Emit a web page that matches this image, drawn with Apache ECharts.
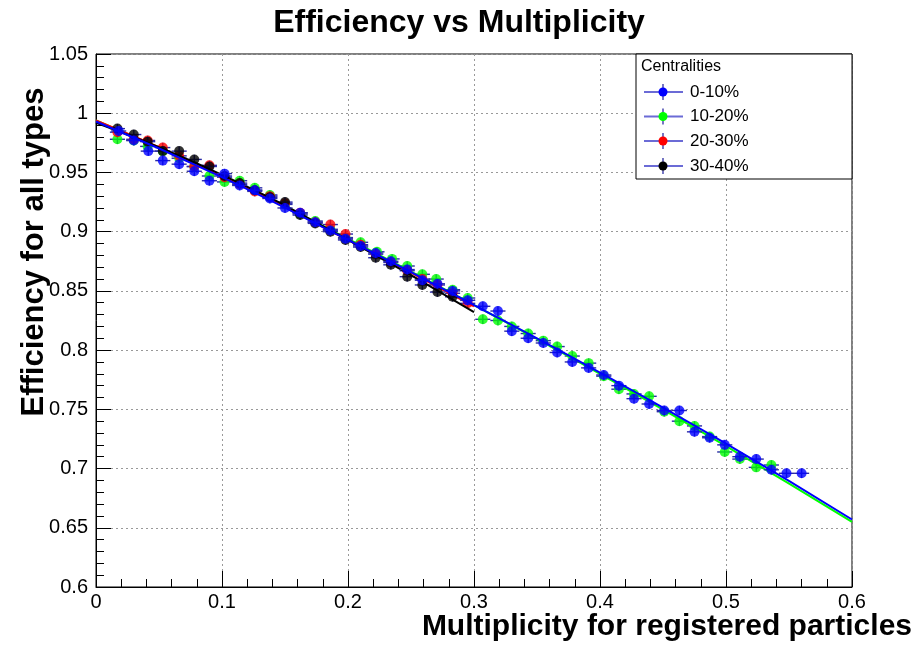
<!DOCTYPE html>
<html>
<head>
<meta charset="utf-8">
<script src="https://cdn.jsdelivr.net/npm/echarts@6/dist/echarts.min.js"></script>
<style>
  html, body { margin: 0; padding: 0; background: #fff; }
  #chart { width: 918px; height: 645px; }
</style>
</head>
<body>
<div id="chart"></div>
<script>
  // data: [multiplicity, efficiency]
  const cent0_10 = [
    [0.018, 0.985], [0.030, 0.977], [0.0415, 0.968], [0.053, 0.960], [0.066, 0.957],
    [0.078, 0.951], [0.090, 0.943], [0.102, 0.949], [0.114, 0.939], [0.126, 0.935],
    [0.138, 0.928], [0.150, 0.920], [0.162, 0.916], [0.174, 0.908], [0.186, 0.901],
    [0.198, 0.894], [0.210, 0.888], [0.222, 0.882], [0.234, 0.875], [0.247, 0.868],
    [0.259, 0.859], [0.271, 0.856], [0.283, 0.850], [0.295, 0.842], [0.307, 0.837],
    [0.319, 0.833], [0.330, 0.816], [0.343, 0.810], [0.355, 0.806], [0.366, 0.798],
    [0.378, 0.790], [0.391, 0.785], [0.403, 0.779], [0.415, 0.770], [0.427, 0.759],
    [0.439, 0.7545], [0.451, 0.749], [0.463, 0.749], [0.475, 0.731], [0.487, 0.726],
    [0.499, 0.720], [0.511, 0.710], [0.524, 0.708], [0.536, 0.699], [0.548, 0.696],
    [0.560, 0.696]
  ]
  const cent10_20 = [
    [0.017, 0.978], [0.030, 0.977], [0.041, 0.972], [0.053, 0.968], [0.066, 0.962],
    [0.078, 0.955], [0.090, 0.947], [0.102, 0.942], [0.114, 0.943], [0.126, 0.937],
    [0.138, 0.931], [0.150, 0.923], [0.162, 0.915], [0.174, 0.909], [0.186, 0.902],
    [0.198, 0.895], [0.210, 0.891], [0.223, 0.883], [0.235, 0.877], [0.247, 0.871],
    [0.259, 0.864], [0.270, 0.860], [0.283, 0.851], [0.295, 0.844], [0.307, 0.826],
    [0.319, 0.825], [0.330, 0.820], [0.343, 0.814], [0.355, 0.808], [0.366, 0.803],
    [0.378, 0.795], [0.391, 0.789], [0.403, 0.778], [0.415, 0.767], [0.427, 0.763],
    [0.439, 0.761], [0.451, 0.748], [0.463, 0.740], [0.475, 0.736], [0.487, 0.727],
    [0.499, 0.714], [0.511, 0.708], [0.524, 0.701], [0.536, 0.703]
  ]
  const cent20_30 = [
    [0.017, 0.984], [0.030, 0.978], [0.041, 0.977], [0.053, 0.971], [0.066, 0.964],
    [0.078, 0.955], [0.090, 0.956], [0.102, 0.946], [0.114, 0.940], [0.126, 0.934],
    [0.138, 0.930], [0.150, 0.924], [0.162, 0.916], [0.174, 0.908], [0.186, 0.906],
    [0.198, 0.898], [0.210, 0.889], [0.222, 0.881], [0.234, 0.874], [0.247, 0.867],
    [0.259, 0.860], [0.271, 0.855], [0.283, 0.848], [0.295, 0.8395]
  ]
  const cent30_40 = [
    [0.017, 0.987], [0.030, 0.982], [0.041, 0.976], [0.053, 0.968], [0.066, 0.968],
    [0.078, 0.961], [0.090, 0.955], [0.102, 0.947], [0.114, 0.941], [0.126, 0.935],
    [0.138, 0.929], [0.150, 0.925], [0.162, 0.914], [0.174, 0.907], [0.186, 0.900],
    [0.198, 0.893], [0.210, 0.887], [0.222, 0.878], [0.234, 0.872], [0.247, 0.862],
    [0.259, 0.855], [0.271, 0.849], [0.283, 0.845]
  ]

  // fit curves, read at a few x positions
  const fit0_10 = [[0, 0.993], [0.1, 0.946], [0.2, 0.893], [0.3, 0.838], [0.4, 0.781], [0.5, 0.721], [0.6, 0.657]]
  const fit10_20 = [[0, 0.994], [0.1, 0.947], [0.2, 0.894], [0.3, 0.838], [0.4, 0.780], [0.5, 0.719], [0.6, 0.655]]
  const fit20_30 = [[0, 0.994], [0.1, 0.947], [0.2, 0.893], [0.3, 0.837]]
  const fit30_40 = [[0, 0.992], [0.1, 0.948], [0.2, 0.893], [0.3, 0.832]]

  const xErr = 0.006
  const yErr = 0.004

  const centNames = ['0-10%', '10-20%', '20-30%', '30-40%']
  const centColors = ['#0000ff', '#00ff00', '#ff0000', '#000000']

  const FONT = 'Liberation Sans, Arial, Helvetica, sans-serif'

  let el = document.getElementById('chart')
  let myChart = echarts.init(el)

  function errorBars(data, z) {
    return {
      type: 'custom',
      z: z,
      silent: true,
      data: data,
      renderItem: function (params, api) {
        let x = api.value(0)
        let y = api.value(1)
        let l = api.coord([x - xErr, y])
        let r = api.coord([x + xErr, y])
        let t = api.coord([x, y + yErr])
        let b = api.coord([x, y - yErr])
        let style = { stroke: '#2a2aa8', lineWidth: 1.4 }
        return {
          type: 'group',
          children: [
            { type: 'line', shape: { x1: l[0], y1: l[1], x2: r[0], y2: r[1] }, style: style },
            { type: 'line', shape: { x1: t[0], y1: t[1], x2: b[0], y2: b[1] }, style: style }
          ]
        }
      }
    }
  }

  function points(name, data, color, z) {
    return {
      name: name,
      type: 'scatter',
      z: z,
      symbol: 'circle',
      symbolSize: 10,
      itemStyle: { color: color },
      data: data
    }
  }

  function fitLine(data, color, z) {
    return {
      type: 'line',
      z: z,
      smooth: true,
      showSymbol: false,
      silent: true,
      lineStyle: { color: color, width: 2 },
      data: data
    }
  }

  // draw order like the original: green, red, black, blue on top
  let series = [
    errorBars(cent10_20, 2), points(centNames[1], cent10_20, centColors[1], 3), fitLine(fit10_20, centColors[1], 4),
    errorBars(cent20_30, 5), points(centNames[2], cent20_30, centColors[2], 6), fitLine(fit20_30, centColors[2], 7),
    errorBars(cent30_40, 8), points(centNames[3], cent30_40, centColors[3], 9), fitLine(fit30_40, centColors[3], 10),
    errorBars(cent0_10, 11), points(centNames[0], cent0_10, centColors[0], 12), fitLine(fit0_10, centColors[0], 13)
  ]

  // legend box drawn like the ROOT one
  let legendRows = [92, 116.5, 141, 166]
  let legendItems = [
    { type: 'rect', shape: { x: 636, y: 54, width: 216, height: 125 }, style: { fill: '#fff', stroke: '#000', lineWidth: 1 }, z: 100 },
    { type: 'text', x: 641, y: 67, style: { text: 'Centralities', font: '16px ' + FONT, fill: '#000', verticalAlign: 'middle' }, z: 101 }
  ]
  centNames.forEach((name, i) => {
    let yy = legendRows[i]
    legendItems.push(
      { type: 'line', shape: { x1: 644, y1: yy, x2: 683, y2: yy }, style: { stroke: '#6b6bd6', lineWidth: 2 }, z: 101 },
      { type: 'line', shape: { x1: 663, y1: yy - 8, x2: 663, y2: yy + 8 }, style: { stroke: '#1a1a9a', lineWidth: 1.2 }, z: 101 },
      { type: 'circle', shape: { cx: 663, cy: yy, r: 4.5 }, style: { fill: centColors[i] }, z: 102 },
      { type: 'text', x: 690, y: yy, style: { text: name, font: '17px ' + FONT, fill: '#000', verticalAlign: 'middle' }, z: 101 }
    )
  })

  let options = {
    animation: false,
    backgroundColor: '#fff',
    title: {
      text: 'Efficiency vs Multiplicity',
      left: 'center',
      top: 2,
      textStyle: { fontFamily: FONT, fontSize: 32, fontWeight: 'bold', color: '#000' }
    },
    legend: { show: false },
    grid: {
      left: 96,
      right: 66,
      top: 54,
      bottom: 58,
      show: true,
      borderColor: '#000',
      borderWidth: 1
    },
    xAxis: {
      type: 'value',
      min: 0,
      max: 0.6,
      interval: 0.1,
      axisLine: { lineStyle: { color: '#000', width: 1 } },
      axisTick: { inside: true, length: 16, lineStyle: { color: '#000' } },
      minorTick: { show: true, splitNumber: 5, length: 8, lineStyle: { color: '#000' } },
      splitLine: { show: true, lineStyle: { color: '#999', type: [2, 3], width: 1 } },
      axisLabel: { fontFamily: FONT, fontSize: 20, color: '#000', margin: 5 }
    },
    yAxis: {
      type: 'value',
      min: 0.6,
      max: 1.05,
      interval: 0.05,
      axisLine: { show: true, lineStyle: { color: '#000', width: 1 } },
      axisTick: { show: true, inside: true, length: 15, lineStyle: { color: '#000' } },
      minorTick: { show: true, splitNumber: 5, length: 8, lineStyle: { color: '#000' } },
      splitLine: { show: true, lineStyle: { color: '#999', type: [2, 3], width: 1 } },
      axisLabel: { fontFamily: FONT, fontSize: 20, color: '#000', margin: 8 }
    },
    graphic: [
      {
        type: 'text',
        x: 34,
        y: 252,
        rotation: Math.PI / 2,
        style: {
          text: 'Efficiency for all types',
          font: 'bold 31px ' + FONT,
          fill: '#000',
          align: 'center',
          verticalAlign: 'middle'
        }
      },
      {
        type: 'text',
        x: 912,
        y: 627,
        style: {
          text: 'Multiplicity for registered particles',
          font: 'bold 30px ' + FONT,
          fill: '#000',
          align: 'right',
          verticalAlign: 'middle'
        }
      }
    ].concat(legendItems),
    series: series
  }

  myChart.setOption(options)
</script>
</body>
</html>
